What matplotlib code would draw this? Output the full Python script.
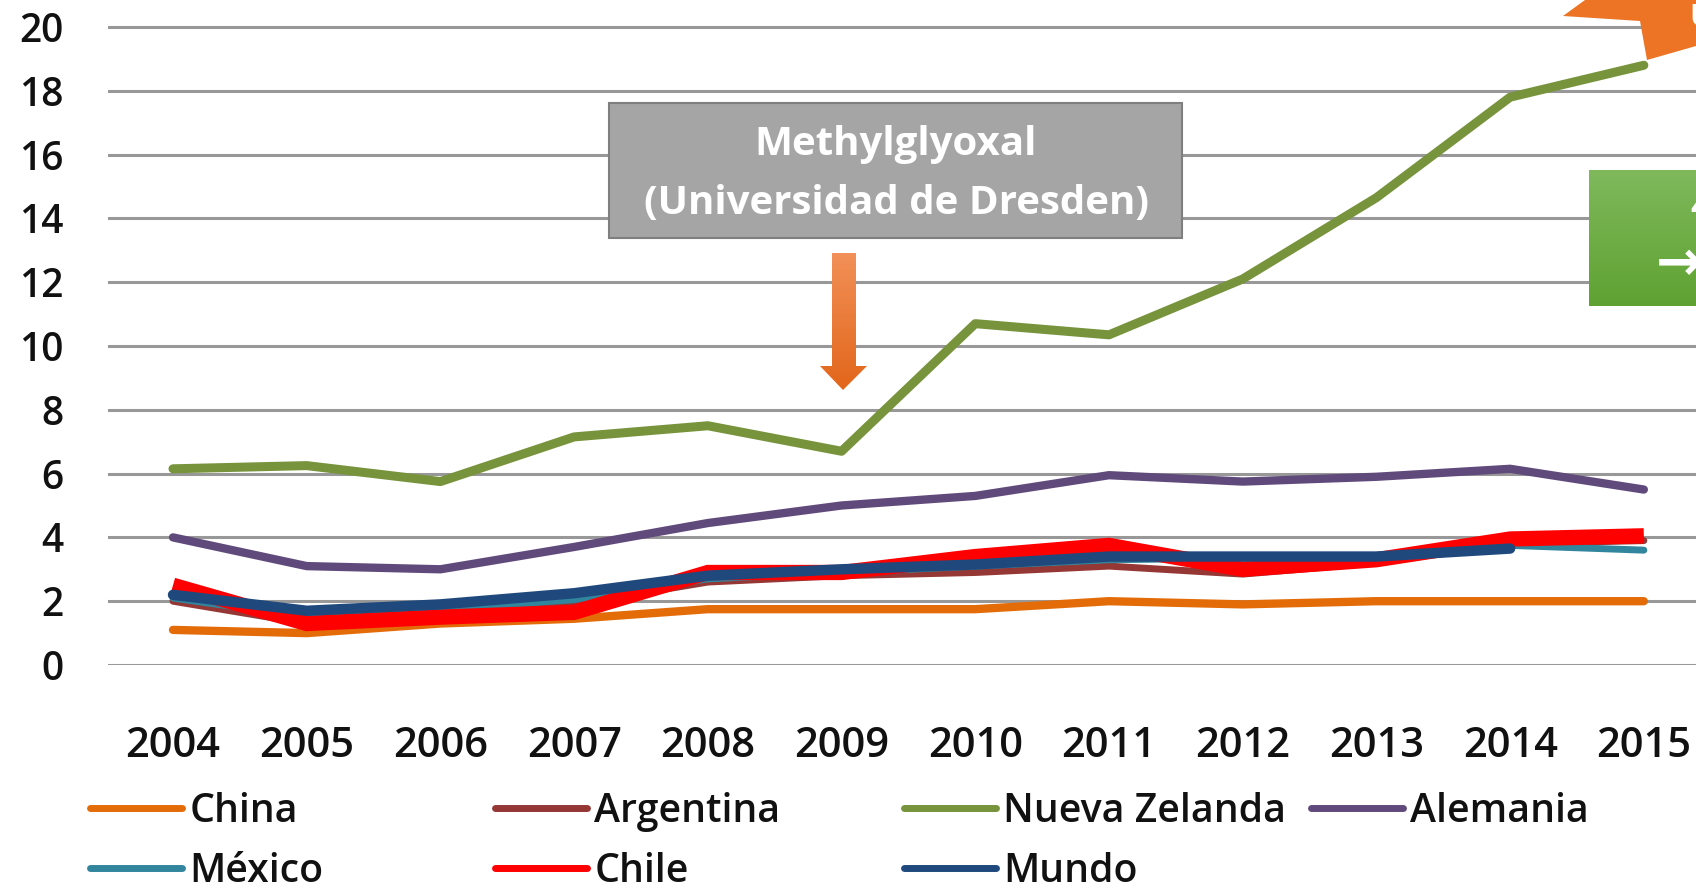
import numpy as np
import matplotlib
matplotlib.use("Agg")
import matplotlib.pyplot as plt
from matplotlib.patches import Polygon, Rectangle

plt.rcParams['font.family'] = ['Open Sans', 'DejaVu Sans']

years = list(range(2004, 2016))
china = [1.1, 1.0, 1.3, 1.45, 1.75, 1.75, 1.75, 2.0, 1.9, 2.0, 2.0, 2.0]
argentina = [2.0, 1.3, 1.6, 1.9, 2.6, 2.8, 2.9, 3.1, 2.85, 3.2, 3.8, 3.9]
nueva_zelanda = [6.15, 6.25, 5.75, 7.15, 7.5, 6.7, 10.7, 10.35, 12.1, 14.65, 17.8, 18.8]
alemania = [4.0, 3.1, 3.0, 3.7, 4.45, 5.0, 5.3, 5.95, 5.75, 5.9, 6.15, 5.5]
mexico = [2.1, 1.5, 1.75, 2.05, 2.7, 2.9, 3.1, 3.3, 3.35, 3.4, 3.75, 3.6]
chile = [2.5, 1.3, 1.5, 1.65, 2.9, 2.9, 3.4, 3.75, 3.0, 3.3, 3.95, 4.05]
mundo = [2.2, 1.7, 1.9, 2.25, 2.8, 3.0, 3.15, 3.4, 3.4, 3.4, 3.65, np.nan]

series = [
    ('China', china, '#e36c09', 6),
    ('Argentina', argentina, '#953735', 5),
    ('Nueva Zelanda', nueva_zelanda, '#77933c', 6.5),
    ('Alemania', alemania, '#604a7b', 6),
    ('México', mexico, '#31859c', 5),
    ('Chile', chile, '#ff0000', 11),
    ('Mundo', mundo, '#1f497d', 7.5),
]

W, H = 1696, 888
fig = plt.figure(figsize=(W / 100, H / 100), dpi=100)
ax = fig.add_axes([108 / W, 1 - 665 / H, 1 - 108 / W, (665 - 20.6) / H])

lines = {}
for name, vals, color, lw in series:
    cap = 'butt' if name == 'Chile' else 'round'
    ln, = ax.plot(years, vals, color=color, lw=lw, solid_capstyle=cap,
                  solid_joinstyle='miter' if name == 'Chile' else 'round', label=name)
    lines[name] = ln

ax.set_xlim(2003.514, 2015.39)
ax.set_ylim(0, 20.2)
ax.set_yticks(range(0, 21, 2))
ax.set_xticks(years)
ax.yaxis.grid(True, color='#989898', lw=2.2)
ax.set_axisbelow(True)
for s in ax.spines.values():
    s.set_visible(False)
ax.tick_params(axis='y', length=0, pad=32, labelsize=28, labelcolor='#111111')
ax.tick_params(axis='x', length=0, pad=43, labelsize=30, labelcolor='#111111')
for lab in ax.get_xticklabels() + ax.get_yticklabels():
    lab.set_fontweight('semibold')

# legend, one entry per slot like the Excel layout
leg_order = ['China', 'Argentina', 'Nueva Zelanda', 'Alemania', 'México', 'Chile', 'Mundo']
leg_x = [90, 495, 904, 1311]
leg_y = [812, 872]
for i, name in enumerate(leg_order):
    x = leg_x[i % 4]
    y = leg_y[i // 4]
    leg = fig.legend(handles=[lines[name]], labels=[name], loc='center left',
                     bbox_to_anchor=(x / W, 1 - y / H), frameon=False, borderpad=0,
                     borderaxespad=0, handlelength=2.35, handletextpad=0.18,
                     prop={'size': 28.3, 'weight': 'semibold'}, labelcolor='#111111')
    leg.get_lines()[0].set_linewidth(5)
    leg.get_lines()[0].set_solid_capstyle('round')

# overlay for the slide annotations, in pixel coordinates
ov = fig.add_axes([0, 0, 1, 1], zorder=5)
ov.set_xlim(0, W)
ov.set_ylim(H, 0)
ov.axis('off')


def gradient_poly(pts, top, bottom, y0, y1, x0, x1):
    poly = Polygon(pts, closed=True, facecolor='none', edgecolor='none')
    ov.add_patch(poly)
    c0 = np.array(matplotlib.colors.to_rgb(top))
    c1 = np.array(matplotlib.colors.to_rgb(bottom))
    t = np.linspace(0, 1, 100)[:, None]
    img = (c0 * (1 - t) + c1 * t)[:, None, :]
    im = ov.imshow(img, extent=(x0, x1, y1, y0), aspect='auto', origin='upper')
    im.set_clip_path(poly)


# gray box
ov.add_patch(Rectangle((609, 103), 573, 135, facecolor='#a5a5a5', edgecolor='#7f7f7f', lw=1.5))
ov.text(896, 144, 'Methylglyoxal', color='white', fontsize=29, fontweight='bold',
        ha='center', va='center')
ov.text(896, 203, '(Universidad de Dresden)', color='white', fontsize=29, fontweight='bold',
        ha='center', va='center')

# orange down arrow
arrow = [(832, 253), (856, 253), (856, 366), (867, 366), (843, 390), (820, 366), (832, 366)]
gradient_poly(arrow, '#f29058', '#e2661a', 253, 390, 815, 870)

# orange shape at top right (cut by the edge)
ov.add_patch(Polygon([(1563, 16), (1585, 0), (1696, 0), (1696, 46), (1647, 60), (1640, 21)],
                     closed=True, facecolor='#ec7424', edgecolor='none'))
ov.text(1689, 18, 'U', color='white', fontsize=22, fontweight='bold', ha='left', va='center')

# green box at right (cut by the edge)
gradient_poly([(1589, 170), (1700, 170), (1700, 306), (1589, 306)],
              '#7fb95c', '#5fa232', 170, 306, 1589, 1700)
ov.text(1690, 208, '4', color='white', fontsize=24, fontweight='bold', ha='left', va='center')
ov.text(1656, 265, '→', color='white', fontsize=40, fontweight='bold', ha='left', va='center',
        family=['DejaVu Sans'])

fig.savefig('out.png', dpi=100)
